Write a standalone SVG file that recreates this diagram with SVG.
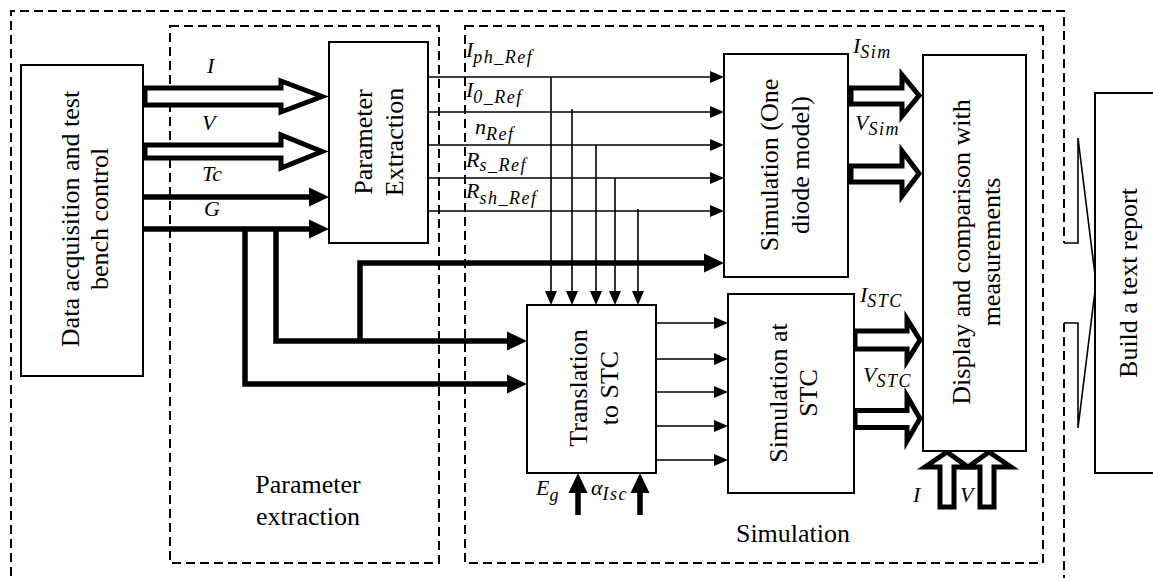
<svg xmlns="http://www.w3.org/2000/svg" width="1153" height="578" viewBox="0 0 1153 578">
<style>
.dash{fill:none;stroke:#000;stroke-width:2;stroke-dasharray:9 5}
.box{fill:#fff;stroke:#000;stroke-width:2}
.outline{fill:none;stroke:#000;stroke-width:1.6}
.thin{fill:none;stroke:#000;stroke-width:1.6;marker-end:url(#ah)}
.thick{fill:none;stroke:#000;stroke-width:5.5;marker-end:url(#ahb)}
.hollow{fill:#fff;stroke:#000;stroke-width:5;stroke-linejoin:miter}
.lbl{font-family:'Liberation Serif',Tinos,'Times New Roman','DejaVu Serif',serif;font-size:26px;fill:#000}
.m{font-family:'Liberation Serif',Tinos,'Times New Roman','DejaVu Serif',serif;font-style:italic;font-size:22px;fill:#000}
.sub{font-size:18px;letter-spacing:1.5px}
</style>
<defs>
<marker id="ah" markerUnits="userSpaceOnUse" markerWidth="14" markerHeight="12" refX="0" refY="6" orient="auto" overflow="visible"><path d="M0,0 L14,6 L0,12z"/></marker>
<marker id="ahb" markerUnits="userSpaceOnUse" markerWidth="20" markerHeight="19" refX="0" refY="9.5" orient="auto" overflow="visible"><path d="M0,0 L20,9.5 L0,19z"/></marker>
</defs>

<g id="frames">
<path class="dash" d="M11,590 V11 H1064 V243"/>
<path class="dash" d="M1064,323 V590"/>
<rect class="dash" x="170" y="26" width="269" height="537"/>
<rect class="dash" x="465" y="26" width="578" height="537"/>
<text class="lbl" text-anchor="middle" x="308" y="493">Parameter</text>
<text class="lbl" text-anchor="middle" x="308" y="525">extraction</text>
<text class="lbl" text-anchor="middle" x="793" y="542">Simulation</text>
</g>

<g id="connectors">
<polygon class="hollow" points="145,88 281,88 281,81 322,96.5 281,112 281,105 145,105"/>
<polygon class="hollow" points="145,145 281,145 281,135 322,151.5 281,168 281,158 145,158"/>
<path class="thick" d="M143,197 H309"/>
<path class="thick" d="M143,229 H309"/>
<path class="thick" d="M245,229 V384 H507"/>
<path class="thick" d="M276,229 V341 H507"/>
<path class="thick" d="M360,341 V263 H704"/>
<path class="thin" d="M428,77 H710"/>
<path class="thin" d="M428,112 H710"/>
<path class="thin" d="M428,145 H710"/>
<path class="thin" d="M428,178 H710"/>
<path class="thin" d="M428,211 H710"/>
<path class="thin" d="M551,77 V291"/>
<path class="thin" d="M572,109 V291"/>
<path class="thin" d="M596,145 V291"/>
<path class="thin" d="M615,178 V291"/>
<path class="thin" d="M638,209 V291"/>
<path class="thin" d="M656,323 H714"/>
<path class="thin" d="M656,359 H714"/>
<path class="thin" d="M656,392 H714"/>
<path class="thin" d="M656,426 H714"/>
<path class="thin" d="M656,460 H714"/>
<path class="thick" d="M578,515 V493"/>
<path class="thick" d="M640,515 V493"/>
<polygon class="hollow" points="851,88 902,88 902,75 919,95.5 902,116 902,104 851,104"/>
<polygon class="hollow" points="851,166 902,166 902,151 919,173.5 902,196 902,182 851,182"/>
<polygon class="hollow" points="855,331 907,331 907,319 920,340 907,361 907,349 855,349"/>
<polygon class="hollow" points="855,410.5 907,410.5 907,396 920,418.5 907,441 907,427.5 855,427.5"/>
<polygon class="hollow" points="940,507 940,467 925,467 947,452 968,467 954,467 954,507"/>
<polygon class="hollow" points="980,507 980,467 968,467 989,452 1011,467 994,467 994,507"/>
<path class="outline" d="M1064,243 H1078 V138 L1096,283 L1078,428 V323 H1064"/>
</g>

<g id="labels">
<text class="m" x="207" y="73">I</text>
<text class="m" x="202" y="130">V</text>
<text class="m" x="202" y="181">Tc</text>
<text class="m" x="204" y="216">G</text>
<text class="m" x="466" y="57">I<tspan class="sub" dy="6">ph_Ref</tspan></text>
<text class="m" x="466" y="97">I<tspan class="sub" dy="6">0_Ref</tspan></text>
<text class="m" x="475" y="134">n<tspan class="sub" dy="6">Ref</tspan></text>
<text class="m" x="466" y="167">R<tspan class="sub" dy="4">s_Ref</tspan></text>
<text class="m" x="466" y="198">R<tspan class="sub" dy="6">sh_Ref</tspan></text>
<text class="m" x="853" y="53">I<tspan class="sub" dy="5">Sim</tspan></text>
<text class="m" x="855" y="130">V<tspan class="sub" dy="5">Sim</tspan></text>
<text class="m" x="860" y="302">I<tspan class="sub" dy="5">STC</tspan></text>
<text class="m" x="863" y="382">V<tspan class="sub" dy="5">STC</tspan></text>
<text class="m" x="536" y="495">E<tspan class="sub" dy="6">g</tspan></text>
<text class="m" x="591" y="495">α<tspan class="sub" dy="5">Isc</tspan></text>
<text class="m" x="913" y="502">I</text>
<text class="m" x="960" y="502">V</text>
</g>

<g id="data-acquisition">
<rect class="box" x="21" y="65" width="122" height="311"/>
<text class="lbl" text-anchor="middle" transform="translate(79,219) rotate(-90)"><tspan x="0" y="0">Data acquisition and test</tspan><tspan x="0" y="29">bench control</tspan></text>
</g>

<g id="parameter-extraction">
<rect class="box" x="329" y="42" width="99" height="201"/>
<text class="lbl" text-anchor="middle" transform="translate(372,142) rotate(-90)"><tspan x="0" y="0">Parameter</tspan><tspan x="0" y="31">Extraction</tspan></text>
</g>

<g id="simulation-one-diode">
<rect class="box" x="724" y="54" width="124" height="223"/>
<text class="lbl" text-anchor="middle" transform="translate(778,165) rotate(-90)"><tspan x="0" y="0">Simulation (One</tspan><tspan x="0" y="31">diode model)</tspan></text>
</g>

<g id="translation-stc">
<rect class="box" x="527" y="305" width="129" height="168"/>
<text class="lbl" text-anchor="middle" transform="translate(587,388) rotate(-90)"><tspan x="0" y="0">Translation</tspan><tspan x="0" y="31">to STC</tspan></text>
</g>

<g id="simulation-stc">
<rect class="box" x="728" y="294" width="126" height="199"/>
<text class="lbl" text-anchor="middle" transform="translate(787,393) rotate(-90)"><tspan x="0" y="0">Simulation at</tspan><tspan x="0" y="30">STC</tspan></text>
</g>

<g id="display">
<rect class="box" x="923" y="55" width="103" height="396"/>
<text class="lbl" text-anchor="middle" transform="translate(970,252) rotate(-90)"><tspan x="0" y="0">Display and comparison with</tspan><tspan x="0" y="30">measurements</tspan></text>
</g>

<g id="report">
<rect class="box" x="1095" y="93" width="80" height="380"/>
<text class="lbl" text-anchor="middle" transform="translate(1137,283) rotate(-90)">Build a text report</text>
</g>
</svg>
